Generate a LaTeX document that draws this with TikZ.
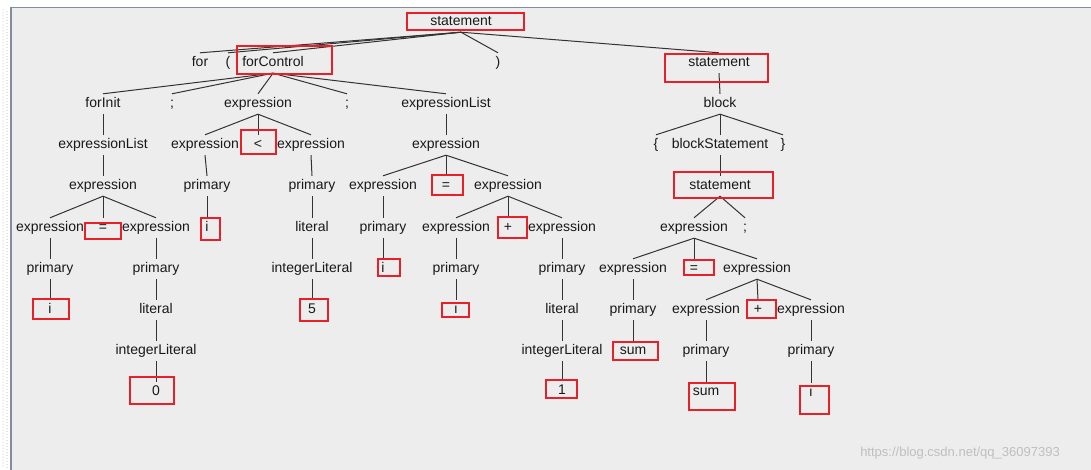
\documentclass[tikz,border=0pt]{standalone}
\usepackage{fontspec}
\setmainfont{Liberation Sans}
\begin{document}
\begin{tikzpicture}[x=1pt,y=-1pt,
  t/.style={inner sep=0pt,text height=10pt,text depth=3pt,minimum height=20pt,yshift=-1pt,font=\fontsize{14}{16}\selectfont,text=black!90},
  e/.style={draw=black!80,line width=1pt},
  rb/.style={draw={rgb,255:red,232;green,32;blue,42},line width=1.8pt}]
\useasboundingbox (0,0) rectangle (1091,470);
\fill[white] (0,0) rectangle (1091,470);
\fill[black!7] (11,8) rectangle (1091,470);
\draw[color={rgb,255:red,130;green,140;blue,155},line width=1.5pt] (11,470) -- (11,7.5) -- (1091,7.5);
\foreach \yy in {10,13,...,468}{\fill[black!30] (3,\yy) circle (0.5); \fill[black!30] (7,\yy+1.5) circle (0.5);}
% nodes
\node[t] (r) at (461,21) {statement};
\node[t] (for) at (200,62) {for};
\node[t] (lp) at (228,62) {(};
\node[t] (fc) at (273,62) {forControl};
\node[t] (rp) at (498,62) {)};
\node[t] (s2) at (719,62) {statement};
\node[t] (fi) at (103,103) {forInit};
\node[t] (sc1) at (172,103) {;};
\node[t] (ex1) at (258,103) {expression};
\node[t] (sc2) at (347,103) {;};
\node[t] (el2) at (446,103) {expressionList};
\node[t] (blk) at (720,103) {block};
\node[t] (el1) at (103,144) {expressionList};
\node[t] (ex1a) at (205,144) {expression};
\node[t] (lt) at (258,144) {<};
\node[t] (ex1b) at (311,144) {expression};
\node[t] (ex2) at (446,144) {expression};
\node[t] (lb) at (656,144) {\{};
\node[t] (bs) at (720,144) {blockStatement};
\node[t] (rb) at (783,144) {\}};
\node[t] (ex3) at (103,185) {expression};
\node[t] (pr1) at (207,185) {primary};
\node[t] (pr2) at (312,185) {primary};
\node[t] (ex2a) at (383,185) {expression};
\node[t] (eq2) at (446,185) {=};
\node[t] (ex2b) at (508,185) {expression};
\node[t] (s3) at (720,185) {statement};
\node[t] (ex3a) at (50,227) {expression};
\node[t] (eq3) at (103,227) {=};
\node[t] (ex3b) at (156,227) {expression};
\node[t] (i1) at (207,227) {i};
\node[t] (lit5) at (312,227) {literal};
\node[t] (pr2a) at (383,227) {primary};
\node[t] (ex2b1) at (456,227) {expression};
\node[t] (pl2) at (508,227) {+};
\node[t] (ex2b2) at (562,227) {expression};
\node[t] (ex4) at (694,227) {expression};
\node[t] (sc4) at (745,227) {;};
\node[t] (pr3a) at (50,268) {primary};
\node[t] (pr3b) at (156,268) {primary};
\node[t] (il5) at (312,268) {integerLiteral};
\node[t] (i2) at (383,268) {i};
\node[t] (pr2b1) at (456,268) {primary};
\node[t] (pr2b2) at (562,268) {primary};
\node[t] (ex4a) at (633,268) {expression};
\node[t] (eq4) at (694,268) {=};
\node[t] (ex4b) at (757,268) {expression};
\node[t] (i3) at (50,309) {i};
\node[t] (lit0) at (156,309) {literal};
\node[t] (n5) at (312,309) {5};
\node[t] (i4) at (456,309) {i};
\node[t] (lit1) at (562,309) {literal};
\node[t] (pr4a) at (633,309) {primary};
\node[t] (ex4b1) at (706,309) {expression};
\node[t] (pl4) at (758,309) {+};
\node[t] (ex4b2) at (811,309) {expression};
\node[t] (il0) at (156,350) {integerLiteral};
\node[t] (il1) at (562,350) {integerLiteral};
\node[t] (sum1) at (633,350) {sum};
\node[t] (pr4b1) at (706,350) {primary};
\node[t] (pr4b2) at (811,350) {primary};
\node[t] (n0) at (156,391) {0};
\node[t] (n1) at (562,390) {1};
\node[t] (sum2) at (706,391) {sum};
\node[t] (i5) at (811,392) {i};
\node[t,font=\fontsize{13}{15}\selectfont,text=black!25] (wm) at (960,452) {https://blog.csdn.net/qq\_36097393};
% edges
\foreach \a/\b in {r/for,r/lp,r/fc,r/rp,r/s2,fc/fi,fc/sc1,fc/ex1,fc/sc2,fc/el2,s2/blk,
  fi/el1,ex1/ex1a,ex1/lt,ex1/ex1b,el2/ex2,blk/lb,blk/bs,blk/rb,
  el1/ex3,ex1a/pr1,ex1b/pr2,ex2/ex2a,ex2/eq2,ex2/ex2b,bs/s3,
  ex3/ex3a,ex3/eq3,ex3/ex3b,pr1/i1,pr2/lit5,ex2a/pr2a,ex2b/ex2b1,ex2b/pl2,ex2b/ex2b2,s3/ex4,s3/sc4,
  ex3a/pr3a,ex3b/pr3b,lit5/il5,pr2a/i2,ex2b1/pr2b1,ex2b2/pr2b2,ex4/ex4a,ex4/eq4,ex4/ex4b,
  pr3a/i3,pr3b/lit0,il5/n5,pr2b1/i4,pr2b2/lit1,ex4a/pr4a,ex4b/ex4b1,ex4b/pl4,ex4b/ex4b2,
  lit0/il0,lit1/il1,pr4a/sum1,ex4b1/pr4b1,ex4b2/pr4b2,il0/n0,il1/n1,pr4b1/sum2,pr4b2/i5}
  {\draw[e] (\a.south) -- (\b.north);}
% red boxes
\draw[rb] (407,13) rectangle (524,30);
\draw[rb] (237,46) rectangle (332,74);
\draw[rb] (665,54) rectangle (768,82);
\draw[rb] (241,130) rectangle (276,154);
\draw[rb] (432,175) rectangle (463,195);
\draw[rb] (674,172) rectangle (773,198);
\draw[rb] (85,223) rectangle (121,239);
\draw[rb] (201,218) rectangle (220,240);
\draw[rb] (498,217) rectangle (527,238);
\draw[rb] (378,259) rectangle (400,276);
\draw[rb] (684,260) rectangle (714,275);
\draw[rb] (33,299) rectangle (69,319);
\draw[rb] (300,299) rectangle (328,321);
\draw[rb] (442,303) rectangle (469,317);
\draw[rb] (747,300) rectangle (776,318);
\draw[rb] (613,342) rectangle (658,360);
\draw[rb] (130,377) rectangle (174,404);
\draw[rb] (546,380) rectangle (577,398);
\draw[rb] (689,383) rectangle (735,410);
\draw[rb] (800,386) rectangle (829,414);
\end{tikzpicture}
\end{document}
